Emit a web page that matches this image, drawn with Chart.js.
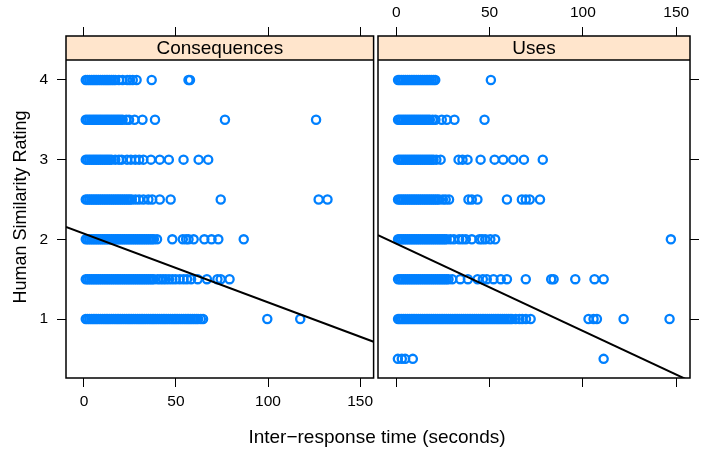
<!DOCTYPE html>
<html>
<head>
<meta charset="utf-8">
<script src="https://cdn.jsdelivr.net/npm/chart.js@4/dist/chart.umd.min.js"></script>
<style>
  body { margin: 0; background: #fff; }
  #wrap { position: relative; width: 708px; height: 452px; font-family: 'Liberation Sans', Arial, sans-serif; }
  #left { position: absolute; left: 0; top: 0; }
  #right { position: absolute; left: 370px; top: 0; }
  #xtitle { position: absolute; left: 0; width: 754px; top: 426px; line-height: 22px; text-align: center; font-size: 19px; color: #000; }
</style>
</head>
<body>
<div id="wrap">
  <canvas id="left" width="380" height="452"></canvas>
  <canvas id="right" width="338" height="452"></canvas>
  <div id="xtitle">Inter−response time (seconds)</div>
</div>
<script>
// rating rows, top to bottom
const ratings = [4, 3.5, 3, 2.5, 2, 1.5, 1, 0.5];

// inter-response times (s), Consequences panel
const cons4 = [1, 2, 3, 4, 5, 6, 7, 8, 9, 10, 11, 12, 13, 14, 15, 16, 17, 19, 21, 23.5, 25, 26.5, 28.6, 36.8, 56.8, 57.6];
const cons35 = [1, 2, 3, 4, 5, 6, 7, 8, 9, 10, 11, 12, 13, 14, 15, 16, 17, 18, 19, 20, 21, 23, 24.5, 27.5, 31.8, 38.6, 76.6, 126.1];
const cons3 = [1, 2, 3, 4, 5, 6, 7, 8, 9, 10, 11, 12, 13, 14, 15, 17, 19, 20.5, 23.4, 25.5, 27.9, 30, 32.3, 36.4, 41.2, 46.1, 54.1, 62.3, 67.5];
const cons25 = [1, 2, 3, 4, 5, 6, 7, 8, 9, 10, 11, 12, 13, 14, 15, 16, 17, 18, 19, 20, 21, 22, 23, 24, 25, 26, 28, 30, 32.3, 35, 37.1, 41.2, 47.1, 74.3, 127.5, 132.3];
const cons2 = [1, 2, 3, 4, 5, 6, 7, 8, 9, 10, 11, 12, 13, 14, 15, 16, 17, 18, 19, 20, 21, 22, 23, 24, 25, 26, 27, 28, 29, 30, 31, 32, 33, 34, 35, 36, 37, 38, 39.7, 48, 53.7, 55.5, 56.8, 59.6, 65.4, 69.3, 73, 86.8];
const cons15 = [1, 2, 3, 4, 5, 6, 7, 8, 9, 10, 11, 12, 13, 14, 15, 16, 17, 18, 19, 20, 21, 22, 23, 24, 25, 26, 27, 28, 29, 30, 31, 32, 33, 34, 35, 36, 37, 38, 40, 41.5, 43, 44.5, 46.2, 48, 49.8, 52, 54.1, 56, 58.2, 61.8, 66.8, 72.5, 74.3, 79.1];
const cons1 = [1, 2, 3, 4, 5, 6, 7, 8, 9, 10, 11, 12, 13, 14, 15, 16, 17, 18, 19, 20, 21, 22, 23, 24, 25, 26, 27, 28, 29, 30, 31, 32, 33, 34, 35, 36, 37, 38, 39, 40, 41, 42, 43, 44, 45, 46, 47, 48, 49, 50, 51, 52, 53, 54, 55, 56, 57, 58, 59, 60, 61, 62, 63.5, 64.7, 99.6, 117.5];

// inter-response times (s), Uses panel
const uses4 = [1, 2, 3, 4, 5, 6, 7, 8, 9, 10, 11, 12, 13, 14, 15, 16, 17, 18, 19, 20, 20.9, 50.7];
const uses35 = [1, 2, 3, 4, 5, 6, 7, 8, 9, 10, 11, 12, 13, 14, 15, 16, 17, 18, 19.5, 21, 24.4, 27.1, 31.2, 47.3];
const uses3 = [1, 2, 3, 4, 5, 6, 7, 8, 9, 10, 11, 12, 13, 14, 15, 16, 17, 18, 19, 20, 21.5, 23.8, 33.4, 35.5, 38.2, 45.2, 52.7, 57.3, 62.7, 68.4, 78.5];
const uses25 = [1, 2, 3, 4, 5, 6, 7, 8, 9, 10, 11, 12, 13, 14, 15, 16, 17, 18, 19, 20, 21, 22, 23, 25, 26.5, 28.3, 38.7, 40.5, 43.5, 59.3, 67.3, 69.4, 71.5, 77];
const uses2 = [1, 2, 3, 4, 5, 6, 7, 8, 9, 10, 11, 12, 13, 14, 15, 16, 17, 18, 19, 20, 21, 22, 23, 24, 25, 26, 27, 29, 30.9, 33.7, 35.5, 37.3, 40.5, 44.6, 46, 47.7, 50.4, 53, 147.1];
const uses15 = [1, 2, 3, 4, 5, 6, 7, 8, 9, 10, 11, 12, 13, 14, 15, 16, 17, 18, 19, 20, 21, 22, 23, 24, 25, 26, 27, 28, 30, 34.3, 38.4, 43.6, 46.4, 48.5, 52.1, 56, 59.3, 69.4, 83, 84.3, 95.9, 106.2, 111.1];
const uses1 = [1, 2, 3, 4, 5, 6, 7, 8, 9, 10, 11, 12, 13, 14, 15, 16, 17, 18, 19, 20, 21, 22, 23, 24, 25, 26, 27, 28, 29, 30, 31, 32, 33, 34, 35, 36, 37, 38, 39, 40, 41, 42, 43, 44, 45, 46, 47, 48, 49, 50, 51, 52, 53, 54, 55, 56, 57, 58, 59, 60, 61, 62, 64, 66, 67.5, 69.5, 72, 103, 105.7, 107.5, 121.8, 146.4];
const uses05 = [0.9, 3, 4.8, 8.9, 111.1];

// fitted lines: [intercept, slope]
const consFit = [2.071, -0.008618];
const usesFit = [1.947, -0.010966];

const xTicks = [0, 50, 100, 150];
const yTicks = [1, 2, 3, 4];
const xMin = -9.75, xMax = 157.35;
const yMin = 0.2595, yMax = 4.552;

const BLUE = '#0080ff';
const FONT = "'Liberation Sans', Arial, sans-serif";

const stripPlugin = {
  id: 'strip',
  beforeDatasetsDraw(chart, args, opts) {
    const { ctx, chartArea: a } = chart;
    ctx.save();
    ctx.fillStyle = '#ffe5cc';
    ctx.fillRect(a.left, a.top, a.width, 24);
    ctx.fillStyle = '#000';
    ctx.font = '19px ' + FONT;
    ctx.textAlign = 'center';
    ctx.textBaseline = 'middle';
    ctx.fillText(opts.label, (a.left + a.right) / 2, a.top + 13);
    ctx.restore();
  },
  afterDatasetsDraw(chart) {
    const { ctx, chartArea: a } = chart;
    ctx.save();
    ctx.strokeStyle = '#000';
    ctx.lineWidth = 1.5;
    ctx.strokeRect(a.left, a.top, a.width, a.height);
    ctx.beginPath();
    ctx.moveTo(a.left, a.top + 24);
    ctx.lineTo(a.right, a.top + 24);
    ctx.stroke();
    ctx.restore();
  }
};

function toPoints(rows) {
  const pts = [];
  rows.forEach((xs, i) => xs.forEach(x => pts.push({ x, y: ratings[i] })));
  return pts;
}

function axisX(position, showLabels, h) {
  return {
    type: 'linear', position, min: xMin, max: xMax,
    afterBuildTicks: s => { s.ticks = xTicks.map(v => ({ value: v })); },
    afterFit: s => { s.height = h; },
    grid: { drawOnChartArea: false, drawTicks: true, tickLength: 9, color: '#000', lineWidth: 1 },
    border: { display: false },
    ticks: { display: showLabels, color: '#000', font: { family: FONT, size: 15.5 }, padding: 5, maxRotation: 0 }
  };
}

function panel(canvasId, rows, fit, label, side) {
  const lineData = [xMin, xMax].map(x => ({ x, y: fit[0] + fit[1] * x }));
  const yAxis = {
    type: 'linear', position: side, min: yMin, max: yMax,
    afterBuildTicks: s => { s.ticks = yTicks.map(v => ({ value: v })); },
    afterFit: s => { s.width = side === 'left' ? 66 : 18; },
    grid: { drawOnChartArea: false, drawTicks: true, tickLength: 9, color: '#000', lineWidth: 1 },
    border: { display: false },
    ticks: { display: side === 'left', color: '#000', font: { family: FONT, size: 15.5 }, padding: 9 },
    title: {
      display: side === 'left', text: 'Human Similarity Rating', color: '#000',
      font: { family: FONT, size: 18 }, padding: { top: 10, bottom: 0 }
    }
  };
  return new Chart(document.getElementById(canvasId), {
    type: 'scatter',
    data: {
      datasets: [
        { type: 'line', data: lineData, borderColor: '#000', borderWidth: 2, pointRadius: 0, fill: false, order: 0 },
        { data: toPoints(rows), pointStyle: 'circle', pointRadius: 4.1, borderWidth: 2.3, borderColor: BLUE, backgroundColor: 'rgba(0,0,0,0)', order: 1 }
      ]
    },
    options: {
      responsive: false, animation: false,
      layout: { padding: side === 'left' ? { left: 0, right: 2, top: 0, bottom: 0 } : { left: 8, right: 0, top: 0, bottom: 0 } },
      plugins: { legend: { display: false }, tooltip: { enabled: false }, strip: { label } },
      scales: {
        x: axisX('bottom', side === 'left', 74),
        xTop: axisX('top', side !== 'left', 36),
        y: yAxis
      }
    },
    plugins: [stripPlugin]
  });
}

panel('left', [cons4, cons35, cons3, cons25, cons2, cons15, cons1], consFit, 'Consequences', 'left');
panel('right', [uses4, uses35, uses3, uses25, uses2, uses15, uses1, uses05], usesFit, 'Uses', 'right');
</script>
</body>
</html>
